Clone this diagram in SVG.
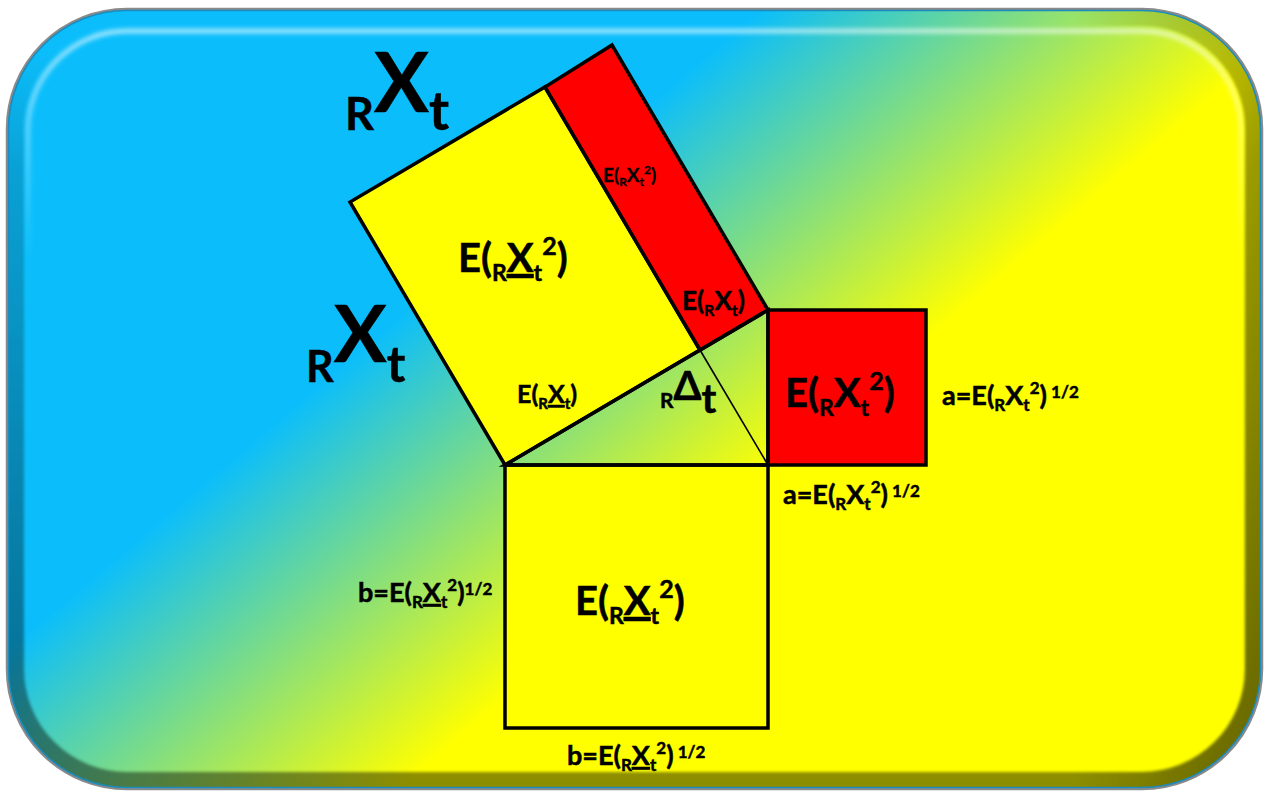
<svg xmlns="http://www.w3.org/2000/svg" width="1264" height="792" viewBox="0 0 1264 792">
<defs>
<linearGradient id="bgGrad" gradientUnits="userSpaceOnUse" x1="324" y1="381" x2="557" y2="655">
<stop offset="0" stop-color="#0BBEFB"/>
<stop offset="1" stop-color="#FFFF00"/>
</linearGradient>
<linearGradient id="shadeV" gradientUnits="userSpaceOnUse" x1="0" y1="9" x2="0" y2="789">
<stop offset="0" stop-color="#000" stop-opacity="0"/>
<stop offset="0.05" stop-color="#000" stop-opacity="0"/>
<stop offset="0.2" stop-color="#000" stop-opacity="0.15"/>
<stop offset="1" stop-color="#000" stop-opacity="0.45"/>
</linearGradient>
<linearGradient id="shadeH" gradientUnits="userSpaceOnUse" x1="7" y1="0" x2="1262" y2="0">
<stop offset="0" stop-color="#000" stop-opacity="0"/>
<stop offset="0.85" stop-color="#000" stop-opacity="0"/>
<stop offset="1" stop-color="#000" stop-opacity="0.3"/>
</linearGradient>
<linearGradient id="hiV" gradientUnits="userSpaceOnUse" x1="0" y1="25" x2="0" y2="260">
<stop offset="0" stop-color="#fff" stop-opacity="0.6"/>
<stop offset="1" stop-color="#fff" stop-opacity="0"/>
</linearGradient>
<clipPath id="bgClip"><rect x="7" y="9" width="1255" height="780" rx="120"/></clipPath>
<filter id="soft" x="-5%" y="-5%" width="110%" height="110%"><feGaussianBlur stdDeviation="1.5"/></filter>
<filter id="soft3" x="-5%" y="-5%" width="110%" height="110%"><feGaussianBlur stdDeviation="2"/></filter>
<style>
.lbl{font-family:Lato,"Noto Sans","DejaVu Sans",sans-serif;font-weight:bold;fill:#000;stroke:#000;stroke-width:0.5}
.shape{stroke:#000;stroke-width:3.5;stroke-linejoin:miter}
.thin{stroke:#000;stroke-width:1.6;fill:none}
.yellow{fill:#FFFF00}
.red{fill:#FF0000}
</style>
</defs>

<g id="background">
<rect x="7" y="9" width="1255" height="780" rx="120" fill="url(#bgGrad)"/>
<g clip-path="url(#bgClip)">
<rect x="7" y="9" width="1255" height="780" rx="120" fill="none" stroke="url(#shadeV)" stroke-width="34" filter="url(#soft)"/>
<rect x="7" y="9" width="1255" height="780" rx="120" fill="none" stroke="url(#shadeH)" stroke-width="34" filter="url(#soft)"/>
<rect x="28" y="31" width="1213" height="736" rx="99" fill="none" stroke="url(#hiV)" stroke-width="5" filter="url(#soft3)"/>
</g>
<rect x="7" y="9" width="1255" height="780" rx="120" fill="none" stroke="#8a8a8a" stroke-width="2.5"/>
<rect x="8.5" y="10.5" width="1252" height="777" rx="118.5" fill="none" stroke="#1a8cc0" stroke-width="1.5"/>
</g>

<g id="square-hyp-yellow">
<polygon class="shape yellow" points="505,465 700,350 545,87 350,202"/>
</g>
<g id="square-hyp-red">
<polygon class="shape red" points="700,350 768,310 612,45 545,87"/>
</g>
<g id="square-a">
<rect class="shape red" x="768" y="310" width="158" height="155"/>
</g>
<g id="square-b">
<rect class="shape yellow" x="505" y="465" width="263" height="263"/>
</g>
<g id="triangle">
<polygon class="shape" fill="none" points="505,465 768,465 768,310"/>
</g>

<g id="connectors">
<line class="thin" x1="768" y1="465" x2="700" y2="350"/>
<line class="thin" x1="700" y1="350" x2="545" y2="87"/>
</g>

<g id="labels">
<text class="lbl" x="345" y="130"><tspan font-size="45">R</tspan><tspan font-size="82" dy="-18">X</tspan><tspan font-size="54" dy="18">t</tspan></text>
<text class="lbl" x="306" y="382"><tspan font-size="43">R</tspan><tspan font-size="79" dy="-20">X</tspan><tspan font-size="50" dy="20">t</tspan></text>

<text class="lbl" x="458" y="272" font-size="40">E(<tspan font-size="23" dy="9">R</tspan><tspan dy="-9" text-decoration="underline">X</tspan><tspan font-size="23" dy="9">t</tspan><tspan font-size="25" dy="-26">2</tspan><tspan dy="17">)</tspan></text>

<text class="lbl" x="603" y="182" font-size="19" style="stroke-width:0.3">E(<tspan font-size="12" dy="4">R</tspan><tspan dy="-4">X</tspan><tspan font-size="12" dy="4">t</tspan><tspan font-size="12" dy="-12">2</tspan><tspan dy="8">)</tspan></text>

<text class="lbl" x="682" y="310" font-size="26">E(<tspan font-size="16" dy="6">R</tspan><tspan dy="-6">X</tspan><tspan font-size="16" dy="6">t</tspan><tspan dy="-6">)</tspan></text>

<text class="lbl" x="517" y="403" font-size="25">E(<tspan font-size="15" dy="6">R</tspan><tspan dy="-6" text-decoration="underline">X</tspan><tspan font-size="15" dy="6">t</tspan><tspan dy="-6">)</tspan></text>

<text class="lbl" x="660" y="408"><tspan font-size="21">R</tspan><tspan font-size="40" dy="-8">Δ</tspan><tspan font-size="40" dy="13">t</tspan></text>

<text class="lbl" x="785" y="407" font-size="40">E(<tspan font-size="23" dy="9">R</tspan><tspan dy="-9">X</tspan><tspan font-size="23" dy="9">t</tspan><tspan font-size="25" dy="-26">2</tspan><tspan dy="17">)</tspan></text>

<text class="lbl" x="575" y="615" font-size="40">E(<tspan font-size="23" dy="9">R</tspan><tspan dy="-9" text-decoration="underline">X</tspan><tspan font-size="23" dy="9">t</tspan><tspan font-size="25" dy="-26">2</tspan><tspan dy="17">)</tspan></text>

<text class="lbl" x="942" y="405" font-size="27">a=E(<tspan font-size="17" dy="6">R</tspan><tspan dy="-6">X</tspan><tspan font-size="17" dy="6">t</tspan><tspan font-size="17" dy="-17">2</tspan><tspan dy="11">)</tspan><tspan font-size="17" dy="-7"> 1/2</tspan></text>

<text class="lbl" x="783" y="504" font-size="27">a=E(<tspan font-size="17" dy="6">R</tspan><tspan dy="-6">X</tspan><tspan font-size="17" dy="6">t</tspan><tspan font-size="17" dy="-17">2</tspan><tspan dy="11">)</tspan><tspan font-size="17" dy="-7"> 1/2</tspan></text>

<text class="lbl" x="358" y="602" font-size="27">b=E(<tspan font-size="17" dy="6">R</tspan><tspan dy="-6" text-decoration="underline">X</tspan><tspan font-size="17" dy="6">t</tspan><tspan font-size="17" dy="-17">2</tspan><tspan dy="11">)</tspan><tspan font-size="17" dy="-7">1/2</tspan></text>

<text class="lbl" x="567" y="765" font-size="27">b=E(<tspan font-size="17" dy="6">R</tspan><tspan dy="-6" text-decoration="underline">X</tspan><tspan font-size="17" dy="6">t</tspan><tspan font-size="17" dy="-17">2</tspan><tspan dy="11">)</tspan><tspan font-size="17" dy="-7"> 1/2</tspan></text>
</g>
</svg>
